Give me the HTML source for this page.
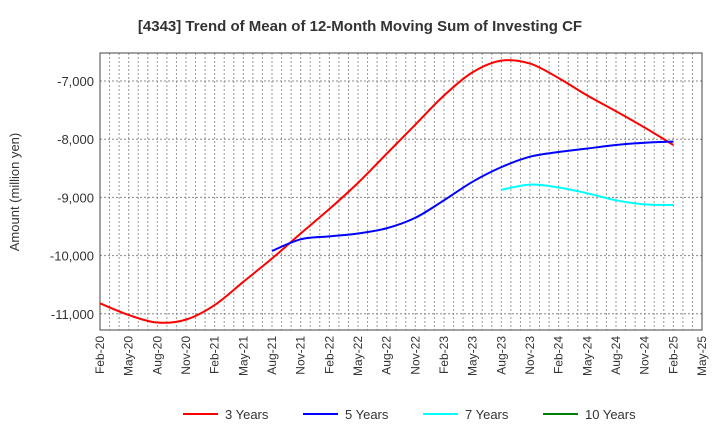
<!DOCTYPE html>
<html><head><meta charset="utf-8"><style>
body{margin:0;background:#fff;font-family:"Liberation Sans",sans-serif}
</style></head><body>
<svg id="c" width="720" height="440" xmlns="http://www.w3.org/2000/svg">
<text x="360" y="31" text-anchor="middle" font-size="15" font-weight="bold" fill="#333">[4343]  Trend of Mean of 12-Month Moving Sum of Investing CF</text>
<text transform="translate(19,192) rotate(-90)" text-anchor="middle" font-size="13" fill="#333">Amount (million yen)</text>
<g id="grid"></g><g id="axes"></g><g id="series"></g><g id="legend"></g>
</svg>
<script>
const xLabels=["Feb-20","May-20","Aug-20","Nov-20","Feb-21","May-21","Aug-21","Nov-21","Feb-22","May-22","Aug-22","Nov-22","Feb-23","May-23","Aug-23","Nov-23","Feb-24","May-24","Aug-24","Nov-24","Feb-25","May-25"];
const yTicks=[-7000,-8000,-9000,-10000,-11000];
const y3=[-10820,-11020,-11150,-11100,-10850,-10450,-10050,-9620,-9200,-8750,-8250,-7750,-7250,-6850,-6650,-6700,-6950,-7250,-7520,-7800,-8100];
const y5=[null,null,null,null,null,null,-9920,-9720,-9670,-9620,-9530,-9350,-9050,-8730,-8480,-8300,-8220,-8160,-8100,-8060,-8040];
const y7=[null,null,null,null,null,null,null,null,null,null,null,null,null,null,-8870,-8780,-8830,-8930,-9050,-9120,-9130];
const y10=[];
const L=100,R=702,T=53,B=330;
const NS="http://www.w3.org/2000/svg";
const xs=i=>L+i*(R-L)/(xLabels.length-1);
const ys=v=>81+(-7000-v)/1000*58.2;
function mk(t,a,p){const e=document.createElementNS(NS,t);for(const k in a)e.setAttribute(k,a[k]);p.appendChild(e);return e;}
const g=document.getElementById('grid');
for(let m=1;m<(xLabels.length-1)*3;m++){const x=L+m*(R-L)/((xLabels.length-1)*3);
const l=mk('line',{x1:x,x2:x,y1:T,y2:B,stroke:'#999','stroke-dasharray':'2,2','stroke-width':1},g);
}
yTicks.forEach(v=>{const l=mk('line',{x1:L,x2:R,y1:ys(v),y2:ys(v),stroke:'#888','stroke-dasharray':'2,2'},g);

const t=mk('text',{x:L-6,y:ys(v)+5,'text-anchor':'end','font-size':13,fill:'#333'},g);t.textContent=v.toLocaleString('en-US');
});
const fr=mk('rect',{x:L,y:T,width:R-L,height:B-T,fill:'none',stroke:'#444'},document.getElementById('axes'));

xLabels.forEach((s,i)=>{const t=mk('text',{transform:`translate(${xs(i)+4},${B+6}) rotate(-90)`,'text-anchor':'end','font-size':12,fill:'#333'},document.getElementById('axes'));
t.textContent=s;});
function path(arr){const p=[];arr.forEach((v,i)=>{if(v!=null)p.push([xs(i),ys(v)]);});if(p.length<2)return '';
let d=`M${p[0][0]},${p[0][1]}`;for(let i=0;i<p.length-1;i++){const a=p[i-1]||p[i],b=p[i],c=p[i+1],e=p[i+2]||c;
d+=` C${b[0]+(c[0]-a[0])/6},${b[1]+(c[1]-a[1])/6} ${c[0]-(e[0]-b[0])/6},${c[1]-(e[1]-b[1])/6} ${c[0]},${c[1]}`;}return d;}
const S=document.getElementById('series');
[[y3,'#ff0000','series-3-years'],[y5,'#0000ff','series-5-years'],[y7,'#00ffff','series-7-years'],[y10,'#008000','series-10-years']].forEach(([a,c,n])=>{
const d=path(a);if(!d)return;const p=mk('path',{d:d,fill:'none',stroke:c,'stroke-width':2},S);
});
const lg=document.getElementById('legend');
[['3 Years','#ff0000',183],['5 Years','#0000ff',303],['7 Years','#00ffff',423],['10 Years','#008000',543]].forEach(([s,c,x])=>{
const gg=mk('g',{},lg);
mk('line',{x1:x,x2:x+35,y1:414,y2:414,stroke:c,'stroke-width':2},gg);
const t=mk('text',{x:x+42,y:419,'font-size':13,fill:'#333'},gg);t.textContent=s;});
</script>
</body></html>
